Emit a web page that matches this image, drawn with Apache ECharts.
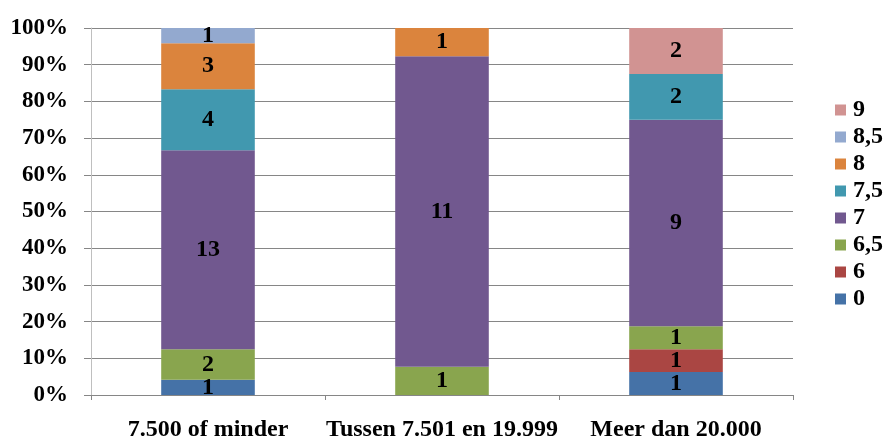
<!DOCTYPE html>
<html>
<head>
<meta charset="utf-8">
<script src="https://cdn.jsdelivr.net/npm/echarts@6/dist/echarts.min.js"></script>
<style>
  html, body { margin: 0; padding: 0; background: #ffffff; }
  #chart { width: 885px; height: 437px; }
</style>
</head>
<body>
<div id="chart"></div>
<script>
// Income groups along the x axis
const categories = ['7.500 of minder', 'Tussen 7.501 en 19.999', 'Meer dan 20.000'];

// Number of answers per grade, one value per income group
const grade0  = [1, 0, 1];
const grade6  = [0, 0, 1];
const grade65 = [2, 1, 1];
const grade7  = [13, 11, 9];
const grade75 = [4, 0, 2];
const grade8  = [3, 1, 0];
const grade85 = [1, 0, 0];
const grade9  = [0, 0, 2];

// Grade names, bottom of the stack first
const gradeNames = ['0', '6', '6,5', '7', '7,5', '8', '8,5', '9'];
const gradeCounts = [grade0, grade6, grade65, grade7, grade75, grade8, grade85, grade9];
const gradeColors = ['#4572A7', '#AA4643', '#89A54E', '#71588F', '#4198AF', '#DB843D', '#93A9CF', '#D19392'];

// Y axis ticks
const yTicks = { min: 0, max: 100, step: 10 };

const FONT = '"Liberation Serif", "Times New Roman", serif';

// Column totals, used to turn counts into shares of 100%
const totals = categories.map((_, i) => gradeCounts.reduce((s, arr) => s + arr[i], 0));

const series = gradeNames.map((name, k) => ({
  name: name,
  type: 'bar',
  stack: 'total',
  barWidth: '40%',
  itemStyle: { color: gradeColors[k] },
  label: {
    show: true,
    position: 'inside',
    color: '#000',
    fontFamily: FONT,
    fontWeight: 'bold',
    fontSize: 24,
    formatter: p => String(gradeCounts[k][p.dataIndex])
  },
  data: gradeCounts[k].map((c, i) => c > 0 ? c / totals[i] * 100 : null)
}));

const chart = echarts.init(document.getElementById('chart'), null, { renderer: 'canvas' });
chart.setOption({
  animation: false,
  backgroundColor: '#ffffff',
  grid: { left: 91, right: 92, top: 28, bottom: 42, containLabel: false, outerBoundsMode: 'none' },
  legend: {
    orient: 'vertical',
    left: 835,
    top: 98,
    padding: 0,
    itemWidth: 11,
    itemHeight: 11,
    itemGap: 3,
    icon: 'rect',
    data: gradeNames.slice().reverse(),
    textStyle: {
      fontFamily: FONT,
      fontWeight: 'bold',
      fontSize: 24,
      color: '#000',
      lineHeight: 24,
      padding: [0, 0, 0, 2]
    }
  },
  xAxis: {
    type: 'category',
    data: categories,
    axisLine: { show: true, lineStyle: { color: '#868686', width: 1 } },
    axisTick: { show: true, alignWithLabel: false, length: 5, lineStyle: { color: '#868686' } },
    axisLabel: {
      interval: 0,
      margin: 23,
      color: '#000',
      fontFamily: FONT,
      fontWeight: 'bold',
      fontSize: 24
    }
  },
  yAxis: {
    type: 'value',
    min: yTicks.min,
    max: yTicks.max,
    interval: yTicks.step,
    axisLine: { show: true, lineStyle: { color: '#bfbfbf', width: 1 } },
    axisTick: { show: true, inside: false, length: 7, lineStyle: { color: '#868686' } },
    splitLine: { show: true, lineStyle: { color: '#868686', width: 1 } },
    axisLabel: {
      margin: 23,
      color: '#000',
      fontFamily: FONT,
      fontWeight: 'bold',
      fontSize: 23,
      formatter: '{value}%'
    }
  },
  series: series
});
</script>
</body>
</html>
